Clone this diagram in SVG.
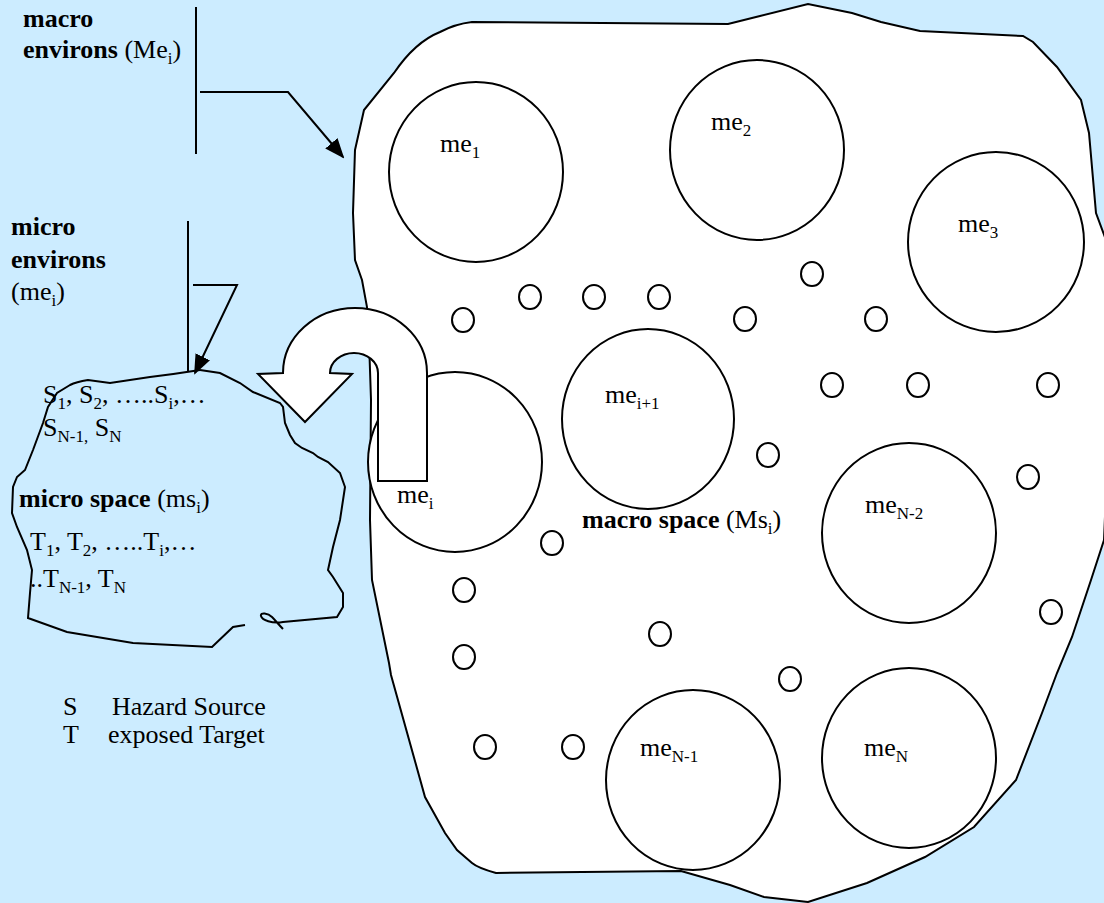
<svg xmlns="http://www.w3.org/2000/svg" width="1104" height="903" viewBox="0 0 1104 903">
<defs>
<style>
.t{font-family:"Liberation Serif","Times New Roman",serif;font-size:26px;fill:#000}
.b{font-weight:bold}
.s{font-size:17px}
.ln{stroke:#000;stroke-width:2;fill:none}
.w{fill:#fff;stroke:#000;stroke-width:2}
</style>
<marker id="ah" markerUnits="userSpaceOnUse" markerWidth="20" markerHeight="20" viewBox="0 0 20 20" refX="18" refY="10" orient="auto">
<path d="M0,2 L20,10 L0,18 Z" fill="#000"/>
</marker>
</defs>
<rect width="1104" height="903" fill="#CCECFF"/>
<g id="macro-space">
<path class="w" d="M 355 150 L 364 110 L 394 73 Q 415 42 440 32 Q 455 24 472 22 L 728 24 L 760 16 L 808 4 L 852 13 L 881 22 L 920 31 L 1023 36 L 1033 42 L 1057 67 L 1081 100 L 1089 133 L 1096 213 L 1106 240 L 1110 400 L 1104 540 L 1091 580 L 1072 637 L 1057 673 L 1042 713 L 1016 780 L 974 827 L 925 857 L 867 883 L 808 902 L 764 897 L 730 885 L 681 871 L 496 873 Q 478 868 472 863 L 457 850 L 445 833 L 425 797 L 391 675 L 389 663 L 372 580 L 370 520 L 371 400 L 369 340 L 367 307 L 362 280 L 355 260 L 353 213 Z"/>
<text class="t" x="582" y="528"><tspan class="b">macro space</tspan> (Ms<tspan class="s" dy="6">i</tspan><tspan dy="-6">)</tspan></text>
</g>
<g id="small-circles">
<ellipse class="w" cx="463" cy="320" rx="11" ry="12"/>
<ellipse class="w" cx="530" cy="297" rx="11" ry="12"/>
<ellipse class="w" cx="594" cy="297" rx="11" ry="12"/>
<ellipse class="w" cx="659" cy="297" rx="11" ry="12"/>
<ellipse class="w" cx="745" cy="319" rx="11" ry="12"/>
<ellipse class="w" cx="812" cy="274" rx="11" ry="12"/>
<ellipse class="w" cx="876" cy="319" rx="11" ry="12"/>
<ellipse class="w" cx="832" cy="385" rx="11" ry="12"/>
<ellipse class="w" cx="918" cy="385" rx="11" ry="12"/>
<ellipse class="w" cx="1048" cy="385" rx="11" ry="12"/>
<ellipse class="w" cx="768" cy="455" rx="11" ry="12"/>
<ellipse class="w" cx="1028" cy="477" rx="11" ry="12"/>
<ellipse class="w" cx="552" cy="543" rx="11" ry="12"/>
<ellipse class="w" cx="464" cy="590" rx="11" ry="12"/>
<ellipse class="w" cx="1051" cy="612" rx="11" ry="12"/>
<ellipse class="w" cx="660" cy="634" rx="11" ry="12"/>
<ellipse class="w" cx="464" cy="657" rx="11" ry="12"/>
<ellipse class="w" cx="790" cy="679" rx="11" ry="12"/>
<ellipse class="w" cx="485" cy="747" rx="11" ry="12"/>
<ellipse class="w" cx="573" cy="747" rx="11" ry="12"/>
</g>
<g id="me1"><ellipse class="w" cx="476" cy="172" rx="87" ry="90"/><text class="t" x="440" y="152">me<tspan class="s" dy="6">1</tspan></text></g>
<g id="me2"><ellipse class="w" cx="757" cy="150" rx="87" ry="90"/><text class="t" x="711" y="130">me<tspan class="s" dy="6">2</tspan></text></g>
<g id="me3"><ellipse class="w" cx="996" cy="242" rx="88" ry="90"/><text class="t" x="958" y="232">me<tspan class="s" dy="6">3</tspan></text></g>
<g id="mei1"><ellipse class="w" cx="648" cy="419" rx="86" ry="90"/><text class="t" x="605" y="403">me<tspan class="s" dy="6">i+1</tspan></text></g>
<g id="mei"><ellipse class="w" cx="455" cy="462" rx="87" ry="90"/><text class="t" x="397" y="503">me<tspan class="s" dy="6">i</tspan></text></g>
<g id="meN2"><ellipse class="w" cx="909" cy="533" rx="87" ry="90"/><text class="t" x="865" y="513">me<tspan class="s" dy="6">N-2</tspan></text></g>
<g id="meN1"><ellipse class="w" cx="693" cy="780" rx="87" ry="90"/><text class="t" x="640" y="756">me<tspan class="s" dy="6">N-1</tspan></text></g>
<g id="meN"><ellipse class="w" cx="909" cy="758" rx="87" ry="90"/><text class="t" x="864" y="756">me<tspan class="s" dy="6">N</tspan></text></g>
<g id="u-arrow">
<path class="w" d="M 378 481 L 427 481 L 427 373 A 72 65 0 0 0 283 373 L 258 374 L 305 422 L 352 374 L 330 373 A 24 20 0 0 1 378 373 Z"/>
</g>
<g id="micro-space">
<path class="ln" d="M 200 370 Q 175 374 150 377 L 110 383 L 88 380 Q 76 382 70 385 L 57 393 L 48 407 L 43 423 L 33 450 L 25 470 L 17 477 L 13 487 L 12 513 L 17 527 L 27 550 L 32 570 L 30 593 L 28 618 L 67 632 L 133 643 L 212 647 L 233 627 L 245 625"/>
<path class="ln" d="M 200 370 L 220 373 L 240 383 L 253 392 L 280 403 L 283 407 L 285 423 L 290 435 L 295 443 L 302 448 L 313 453 L 318 457 L 328 462 L 340 473 L 345 487 L 340 520 L 333 547 L 328 570 L 333 577 L 343 593 L 343 607 L 337 617 L 283 622 C 272 624 262 620 261 616 C 260 612 268 613 272 617 C 276 621 279 625 283 629"/>
<text class="t" x="43" y="403">S<tspan class="s" dy="6">1</tspan><tspan dy="-6">, S</tspan><tspan class="s" dy="6">2</tspan><tspan dy="-6">, …..S</tspan><tspan class="s" dy="6">i</tspan><tspan dy="-6">,…</tspan></text>
<text class="t" x="43" y="436">S<tspan class="s" dy="6">N-1,</tspan><tspan dy="-6"> S</tspan><tspan class="s" dy="6">N</tspan></text>
<text class="t" x="19" y="507"><tspan class="b">micro space</tspan> (ms<tspan class="s" dy="6">i</tspan><tspan dy="-6">)</tspan></text>
<text class="t" x="30" y="550">T<tspan class="s" dy="6">1</tspan><tspan dy="-6">, T</tspan><tspan class="s" dy="6">2</tspan><tspan dy="-6">, …..T</tspan><tspan class="s" dy="6">i</tspan><tspan dy="-6">,…</tspan></text>
<text class="t" x="30" y="587">..T<tspan class="s" dy="6">N-1</tspan><tspan dy="-6">, T</tspan><tspan class="s" dy="6">N</tspan></text>
</g>
<g id="macro-environs">
<text class="t" x="23" y="27"><tspan class="b">macro</tspan></text>
<text class="t" x="23" y="58"><tspan class="b">environs</tspan> (Me<tspan class="s" dy="6">i</tspan><tspan dy="-6">)</tspan></text>
</g>
<g id="micro-environs">
<text class="t b" x="11" y="235">micro</text>
<text class="t b" x="11" y="268">environs</text>
<text class="t" x="11" y="300">(me<tspan class="s" dy="6">i</tspan><tspan dy="-6">)</tspan></text>
</g>
<g id="legend">
<text class="t" x="63" y="715">S</text>
<text class="t" x="112" y="715">Hazard Source</text>
<text class="t" x="63" y="743">T</text>
<text class="t" x="108" y="743">exposed Target</text>
</g>
<g id="connectors">
<line class="ln" x1="196" y1="7" x2="196" y2="154"/>
<polyline class="ln" points="200,92 288,92 343,157" marker-end="url(#ah)"/>
<line class="ln" x1="188" y1="221" x2="188" y2="372"/>
<polyline class="ln" points="193,285 237,285 195,373" marker-end="url(#ah)"/>
</g>
</svg>
